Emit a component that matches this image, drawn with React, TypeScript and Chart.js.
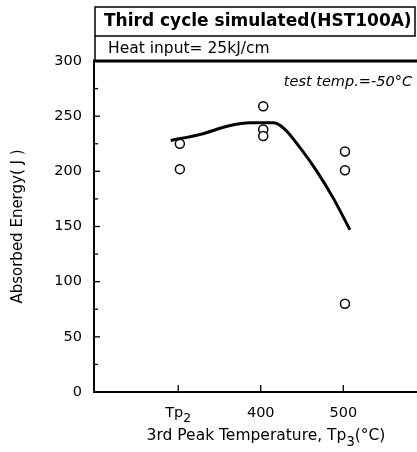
import React, { useEffect, useRef } from "react";
import { Chart, registerables } from "chart.js";

Chart.register(...registerables);

// ---- data ----
const pointTemps = [302, 302, 403, 403, 403, 502, 502, 502];
const pointEnergy = [225, 202, 259, 238, 232, 218, 201, 80];
const curveTemps = [291, 327, 363, 387, 415, 428, 448, 468, 488, 508];
const curveEnergy = [228, 233.5, 241.5, 244, 244, 239, 221, 200, 175.5, 147];
const yTicks = [0, 50, 100, 150, 200, 250, 300];
const yMinorTicks = [25, 75, 125, 175, 225, 275];
const xTickValues = [300, 400, 500];
const xTickLabels = [["T", "p", "_2"], ["400"], ["500"]];
const titleText = "Third cycle simulated(HST100A)";
const heatText = "Heat input= 25kJ/cm";
const testTempText = "test temp.=-50°C";
const xTitleParts = ["3rd Peak Temperature, T", "p", "_3", "(°C)"];
const yTitleText = "Absorbed Energy( J )";

const FONT = "'DejaVu Sans', sans-serif";

function drawParts(ctx: CanvasRenderingContext2D, parts: string[], cx: number, cy: number, size: number) {
  const subSize = size * 0.85;
  const widths = parts.map((p) => {
    if (p.startsWith("_")) {
      ctx.font = `${subSize}px ${FONT}`;
      return ctx.measureText(p.slice(1)).width;
    }
    ctx.font = `${size}px ${FONT}`;
    return ctx.measureText(p).width;
  });
  const total = widths.reduce((a, b) => a + b, 0);
  let x = cx - total / 2;
  ctx.textAlign = "left";
  ctx.textBaseline = "middle";
  parts.forEach((p, i) => {
    if (p.startsWith("_")) {
      ctx.font = `${subSize}px ${FONT}`;
      ctx.fillText(p.slice(1), x, cy + size * 0.4);
    } else {
      ctx.font = `${size}px ${FONT}`;
      ctx.fillText(p, x, cy);
    }
    x += widths[i];
  });
}

const decorPlugin = {
  id: "decor",
  afterDraw(chart: any) {
    const ctx: CanvasRenderingContext2D = chart.ctx;
    const { left, top, bottom } = chart.chartArea;
    const xs = chart.scales.x;
    const ys = chart.scales.y;
    ctx.save();
    ctx.fillStyle = "#000";
    ctx.strokeStyle = "#000";

    // header boxes
    ctx.lineWidth = 1.5;
    ctx.strokeRect(95, 7, 320, 29);
    ctx.beginPath();
    ctx.moveTo(95, 36);
    ctx.lineTo(95, top);
    ctx.stroke();
    ctx.font = `bold 17px ${FONT}`;
    ctx.textAlign = "left";
    ctx.textBaseline = "middle";
    ctx.fillText(titleText, 104, 22);
    ctx.font = `15.5px ${FONT}`;
    ctx.fillText(heatText, 108, 49);

    // thick top line
    ctx.lineWidth = 3;
    ctx.beginPath();
    ctx.moveTo(left - 1, top);
    ctx.lineTo(chart.width, top);
    ctx.stroke();

    // x axis line to the right edge
    ctx.lineWidth = 2;
    ctx.beginPath();
    ctx.moveTo(left, bottom);
    ctx.lineTo(chart.width, bottom);
    ctx.stroke();

    // test temp
    ctx.font = `italic 14.5px ${FONT}`;
    ctx.textAlign = "right";
    ctx.fillText(testTempText, 412, 82);

    // inward y ticks
    ctx.lineWidth = 1.3;
    yTicks.forEach((v) => {
      const y = ys.getPixelForValue(v);
      ctx.beginPath();
      ctx.moveTo(left, y);
      ctx.lineTo(left + 6, y);
      ctx.stroke();
    });
    yMinorTicks.forEach((v) => {
      const y = ys.getPixelForValue(v);
      ctx.beginPath();
      ctx.moveTo(left, y);
      ctx.lineTo(left + 4, y);
      ctx.stroke();
    });
    // inward x ticks + labels
    xTickValues.forEach((v, i) => {
      const x = xs.getPixelForValue(v);
      ctx.beginPath();
      ctx.moveTo(x, bottom + 1);
      ctx.lineTo(x, bottom - 7);
      ctx.stroke();
      drawParts(ctx, xTickLabels[i], x, 413, 14.5);
    });

    // x title
    drawParts(ctx, xTitleParts, 266, 436, 15.5);

    // y title
    ctx.save();
    ctx.translate(18, (top + bottom) / 2);
    ctx.rotate(-Math.PI / 2);
    ctx.font = `15px ${FONT}`;
    ctx.textAlign = "center";
    ctx.textBaseline = "middle";
    ctx.fillText(yTitleText, 0, 0);
    ctx.restore();

    ctx.restore();
  },
};

export default function App() {
  const ref = useRef<HTMLCanvasElement>(null);
  useEffect(() => {
    if (!ref.current) return;
    const chart = new Chart(ref.current, {
      type: "scatter",
      data: {
        datasets: [
          {
            label: "curve",
            data: curveTemps.map((x, i) => ({ x, y: curveEnergy[i] })),
            showLine: true,
            borderColor: "#000",
            borderWidth: 3,
            pointRadius: 0,
            cubicInterpolationMode: "monotone",
            fill: false,
          },
          {
            label: "measured",
            data: pointTemps.map((x, i) => ({ x, y: pointEnergy[i] })),
            showLine: false,
            pointStyle: "circle",
            pointRadius: 4.5,
            pointBorderWidth: 1.5,
            pointBorderColor: "#000",
            pointBackgroundColor: "#fff",
          },
        ],
      },
      options: {
        animation: false,
        responsive: false,
        maintainAspectRatio: false,
        layout: { padding: { left: 0, top: 61, right: 0, bottom: 0 } },
        plugins: {
          legend: { display: false },
          tooltip: { enabled: false },
          title: { display: false },
        },
        scales: {
          x: {
            type: "linear",
            min: 198,
            max: 582,
            grid: { display: false, drawTicks: false },
            border: { display: true, color: "#000", width: 2 },
            ticks: { display: false },
            afterFit: (s: any) => {
              s.height = 60;
            },
          },
          y: {
            type: "linear",
            min: 0,
            max: 300,
            grid: { display: false, drawTicks: false },
            border: { display: true, color: "#000", width: 2 },
            ticks: {
              stepSize: 50,
              padding: 12,
              color: "#000",
              font: { family: "'DejaVu Sans', sans-serif", size: 14.5 },
            },
            afterFit: (s: any) => {
              s.width = 94;
            },
          },
        },
      },
      plugins: [decorPlugin],
    });
    return () => chart.destroy();
  }, []);
  return (
    <div style={{ position: "fixed", left: 0, top: 0, width: 417, height: 452, background: "#fff" }}>
      <canvas ref={ref} width={417} height={452} style={{ width: 417, height: 452 }} />
    </div>
  );
}
